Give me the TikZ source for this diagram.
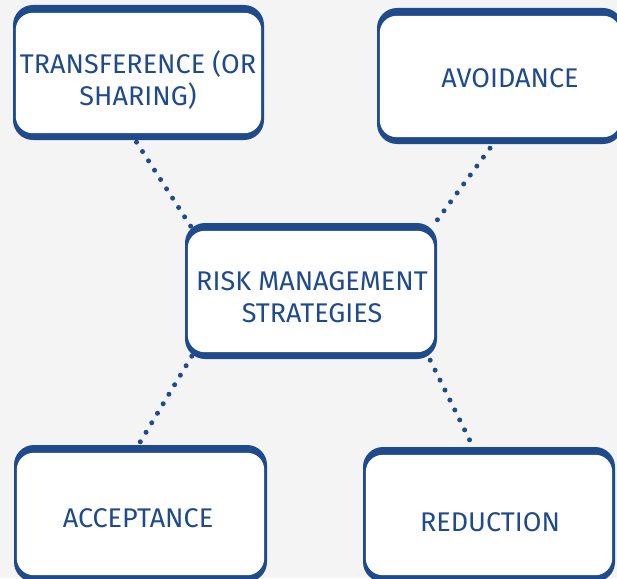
\documentclass[tikz,border=0pt]{standalone}
\usepackage{fontspec}
\setmainfont{Fira Sans}
\usetikzlibrary{calc}
\definecolor{navy}{HTML}{1F4A8C}
\definecolor{bg}{HTML}{F4F4F4}
\tikzset{
  outerbox/.style={rectangle, rounded corners=20pt, fill=navy, inner sep=0pt, draw=none},
  lbl/.style={text=navy, font=\fontsize{27}{32}\selectfont, align=center, inner sep=0pt},
  dotline/.style={navy, line width=5pt, line cap=round, dash pattern=on 0pt off 11.1pt},
}
\newcommand{\innerwhite}[1]{\fill[white, rounded corners=17pt] ($(#1.north west)+(3,8)$) rectangle ($(#1.south east)+(-3,-7)$);}
\begin{document}
\begin{tikzpicture}[x=1pt,y=-1pt]
\useasboundingbox (0,0) rectangle (617,578);
\fill[bg] (0,0) rectangle (617,578);
\clip (0,0) rectangle (617,578);
% outer boxes
\node[outerbox, minimum width=251pt, minimum height=135pt] (t) at (138.5,72.5) {};
\node[outerbox, minimum width=246pt, minimum height=136pt] (a) at (500,76) {};
\node[outerbox, minimum width=252pt, minimum height=136pt] (c) at (311,291) {};
\node[outerbox, minimum width=253pt, minimum height=137pt] (p) at (140.5,513.5) {};
\node[outerbox, minimum width=252pt, minimum height=135pt] (r) at (489,514.5) {};
% connectors
\draw[dotline] ($(t.south)+(-2,2)$) -- ($(c.north west)+(14,16)$);
\draw[dotline] ($(a.south)+(-10,4)$) -- ($(c.north east)+(-2,0)$);
\draw[dotline] ($(c.south west)+(7,-3)$) -- ($(p.north)+(-2,0)$);
\draw[dotline] ($(c.south east)+(-7,1)$) -- ($(r.north)+(-17,-2)$);
% inner white
\innerwhite{t}
\innerwhite{a}
\innerwhite{c}
\innerwhite{p}
\innerwhite{r}
% labels
\node[lbl] (tl) at (138,80) {TRANSFERENCE (OR\\SHARING)};
\node[lbl] (al) at (510,78) {AVOIDANCE};
\node[lbl] (cl) at (312,297) {RISK MANAGEMENT\\STRATEGIES};
\node[lbl] (pl) at (138,518) {ACCEPTANCE};
\node[lbl] (rl) at (490,522) {REDUCTION};
\end{tikzpicture}
\end{document}
